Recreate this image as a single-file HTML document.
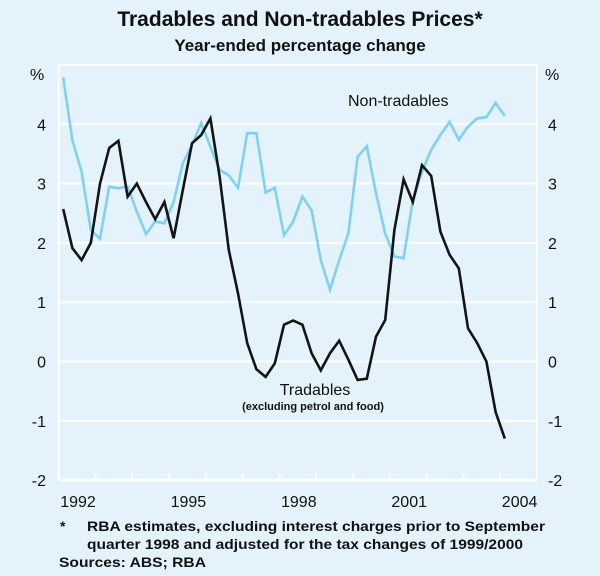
<!DOCTYPE html>
<html><head><meta charset="utf-8"><style>
body{margin:0;background:#e3f2fb;font-family:"Liberation Sans",sans-serif;}
svg{display:block}
</style></head><body>
<svg width="600" height="576" id="c">
<rect width="600" height="576" fill="#e3f2fb"/>
<text x="300" y="26" text-anchor="middle" font-size="21" font-weight="bold" fill="#111">Tradables and Non-tradables Prices*</text>
<text x="300" y="51" text-anchor="middle" font-size="17" font-weight="bold" fill="#111">Year-ended percentage change</text>
<g id="grid"></g>
<g id="lines"></g>
<text x="348" y="106" font-size="16" fill="#111">Non-tradables</text>
<text x="315" y="395" text-anchor="middle" font-size="16" fill="#111">Tradables</text>
<text x="313" y="410" text-anchor="middle" font-size="11" font-weight="bold" fill="#111">(excluding petrol and food)</text>
<text x="60" y="531" font-size="14" font-weight="bold" fill="#111">*</text>
<text x="87" y="531" font-size="14" font-weight="bold" fill="#111" textLength="458" lengthAdjust="spacingAndGlyphs">RBA estimates, excluding interest charges prior to September</text>
<text x="87" y="549" font-size="14" font-weight="bold" fill="#111" textLength="436" lengthAdjust="spacingAndGlyphs">quarter 1998 and adjusted for the tax changes of 1999/2000</text>
<text x="59" y="567" font-size="14" font-weight="bold" fill="#111" textLength="147" lengthAdjust="spacingAndGlyphs">Sources: ABS; RBA</text>
</svg>
<script>
const yTicks=[-2,-1,0,1,2,3,4];
const yearLabels=["1992","1995","1998","2001","2004"];
const nonTradables=[4.79,3.73,3.2,2.22,2.07,2.95,2.92,2.95,2.53,2.15,2.36,2.33,2.69,3.34,3.65,4.02,3.62,3.23,3.14,2.93,3.85,3.85,2.85,2.93,2.13,2.36,2.78,2.55,1.71,1.21,1.71,2.16,3.45,3.63,2.84,2.16,1.77,1.74,2.72,3.2,3.57,3.82,4.04,3.74,3.96,4.1,4.12,4.36,4.14];
const tradables=[2.57,1.91,1.71,2.0,3.0,3.6,3.72,2.78,3.0,2.69,2.4,2.69,2.08,2.89,3.68,3.82,4.1,3.12,1.88,1.15,0.31,-0.13,-0.26,-0.03,0.62,0.69,0.62,0.14,-0.15,0.14,0.35,0.03,-0.31,-0.29,0.42,0.7,2.22,3.07,2.69,3.31,3.13,2.19,1.8,1.57,0.56,0.31,0.0,-0.85,-1.3];
const X0=58.6,X1=537,YEAR=36.8,startYear=1992;
const y=v=>361.5-v*59.3;
const xq=i=>X0+(i+0.5)*YEAR/4;
const xYear=yr=>X0+(yr-startYear)*YEAR;
const NS="http://www.w3.org/2000/svg";
const grid=document.getElementById('grid'),lines=document.getElementById('lines');
function mk(tag,attrs,parent,txt){const e=document.createElementNS(NS,tag);for(const k in attrs)e.setAttribute(k,attrs[k]);if(txt!==undefined)e.textContent=txt;parent.appendChild(e);return e;}
for(const v of [5,...yTicks]){
  const l=mk('line',{x1:X0,x2:X1,y1:y(v),y2:y(v),stroke:'#fff','stroke-width':v===-2?2.5:2},grid);
  
  
}
for(const xx of [X0,X1]){
  const l=mk('line',{x1:xx,x2:xx,y1:y(5),y2:y(-2),stroke:'#fff','stroke-width':2},grid);
  
  
}
for(let k=1;k<13;k++){
  const t=mk('line',{x1:xYear(startYear+k),x2:xYear(startYear+k),y1:y(-2),y2:y(-2)-7,stroke:'#fff','stroke-width':2},grid);
  
  
}
for(const v of yTicks){
  const a=mk('text',{x:46,y:y(v)+6,'text-anchor':'end','font-size':16,fill:'#111'},grid,String(v));
  
  
  const b=mk('text',{x:548,y:y(v)+6,'font-size':16,fill:'#111'},grid,String(v));
  
  
}
const p1=mk('text',{x:30,y:80,'font-size':16,fill:'#111'},grid,'%');


const p2=mk('text',{x:545,y:80,'font-size':16,fill:'#111'},grid,'%');


for(const lab of yearLabels){
  const yr=+lab;
  const t=mk('text',{x:xYear(yr)+YEAR/2+1,y:507,'text-anchor':'middle','font-size':16,fill:'#111'},grid,lab);
  
  
}
function series(data,color,name){
  const d=data.map((v,i)=>(i?'L':'M')+xq(i).toFixed(1)+','+y(v).toFixed(1)).join('');
  const p=mk('path',{d:d,fill:'none',stroke:color,'stroke-width':2.6,'stroke-linejoin':'miter'},lines);
  
  
}
series(nonTradables,'#7fd1f4','non-tradables-line');
series(tradables,'#141414','tradables-line');
</script>
</body></html>
